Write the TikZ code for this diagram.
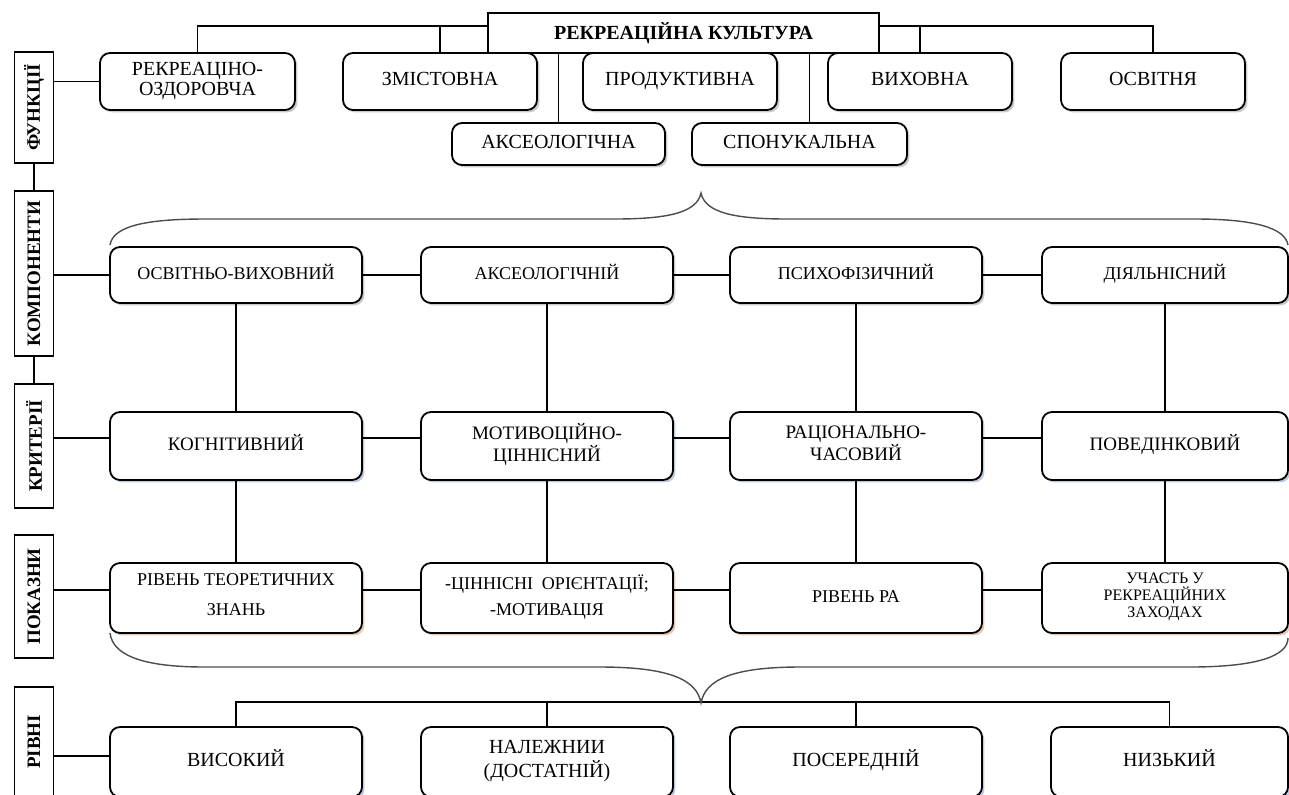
\documentclass[tikz,border=0pt]{standalone}
\usepackage{fontspec}
\setmainfont{Liberation Serif}
\usetikzlibrary{shadows}
\definecolor{shgray}{RGB}{150,150,150}
\definecolor{shblue}{RGB}{125,148,185}
\definecolor{shbrown}{RGB}{205,145,105}
\begin{document}
\begin{tikzpicture}[x=0.5pt,y=-0.5pt,line width=0.7pt,
    boxshadow/.style={drop shadow={shadow xshift=1.2pt,shadow yshift=-1.2pt,fill=#1}},
    box/.style={draw,line width=0.9pt,rounded corners=5pt,fill=white,align=center,inner sep=1pt,
        execute at begin node=\strut,execute at end node=\strut,
        font=\fontsize{9.5}{11}\selectfont},
    fbox/.style={box,boxshadow=shgray,minimum height=28.5pt,font=\fontsize{10}{10}\selectfont},
    sbox/.style={box,boxshadow=shgray,minimum height=21pt,font=\fontsize{10}{11}\selectfont},
    comp/.style={box,boxshadow=shgray,minimum width=126pt,minimum height=28pt,font=\fontsize{9}{11}\selectfont},
    crit/.style={box,boxshadow=shblue,minimum width=126pt,minimum height=34pt},
    ind/.style={box,boxshadow=shbrown,minimum width=126pt,minimum height=35pt,font=\fontsize{9}{11}\selectfont},
    lev/.style={box,boxshadow=shblue,minimum width=126pt,minimum height=35pt,font=\fontsize{10}{12}\selectfont},
    lbl/.style={draw,line width=0.9pt,rotate=90,fill=white,inner sep=0pt,minimum height=19.5pt,
        font=\bfseries\fontsize{9.5}{11}\selectfont}]
    \useasboundingbox (0,0) rectangle (1289,794);

    \node[lbl,minimum width=55.5pt] (lf) at (34,107.5) {ФУНКЦІЇ};
    \node[lbl,minimum width=82.5pt] (lc) at (34,273.5) {КОМПОНЕНТИ};
    \node[lbl,minimum width=62pt] (lk) at (34,446) {КРИТЕРІЇ};
    \node[lbl,minimum width=61.5pt] (lp) at (34,596.5) {ПОКАЗНИ};
    \node[lbl,minimum width=55pt] (lr) at (34,742) {РІВНІ};

    \node[draw,line width=0.9pt,fill=white,minimum width=195.5pt,minimum height=20pt,
        font=\bfseries\fontsize{10}{12}\selectfont] (root) at (683.5,33) {РЕКРЕАЦІЙНА КУЛЬТУРА};

    \node[fbox,minimum width=97.5pt] (f1) at (197.5,81.5) {РЕКРЕАЦІНО-\\ОЗДОРОВЧА};
    \node[fbox,minimum width=97pt] (f2) at (440,81.5) {ЗМІСТОВНА};
    \node[fbox,minimum width=97pt] (f3) at (680,81.5) {ПРОДУКТИВНА};
    \node[fbox,minimum width=92pt] (f4) at (920,81.5) {ВИХОВНА};
    \node[fbox,minimum width=92pt] (f5) at (1153,81.5) {ОСВІТНЯ};
    \node[sbox,minimum width=106.5pt] (f6) at (558.5,144) {АКСЕОЛОГІЧНА};
    \node[sbox,minimum width=107.5pt] (f7) at (799.5,144) {СПОНУКАЛЬНА};

    \node[comp] (c1) at (236,275) {ОСВІТНЬО-ВИХОВНИЙ};
    \node[comp] (c2) at (547,275) {АКСЕОЛОГІЧНІЙ};
    \node[comp] (c3) at (856,275) {ПСИХОФІЗИЧНИЙ};
    \node[comp,minimum width=123pt] (c4) at (1165,275) {ДІЯЛЬНІСНИЙ};

    \node[crit] (k1) at (236,446) {КОГНІТИВНИЙ};
    \node[crit] (k2) at (547,446) {МОТИВОЦІЙНО-\\ЦІННІСНИЙ};
    \node[crit] (k3) at (856,446) {РАЦІОНАЛЬНО-\\ЧАСОВИЙ};
    \node[crit,minimum width=123pt] (k4) at (1165,446) {ПОВЕДІНКОВИЙ};

    \node[ind] (p1) at (236,598) {РІВЕНЬ ТЕОРЕТИЧНИХ\\[4pt]ЗНАНЬ};
    \node[ind] (p2) at (547,598) {-ЦІННІСНІ~~ОРІЄНТАЦІЇ;\\[2pt]-МОТИВАЦІЯ};
    \node[ind] (p3) at (856,598) {РІВЕНЬ РА};
    \node[ind,minimum width=123pt,font=\fontsize{8}{8.5}\selectfont] (p4) at (1165,598) {УЧАСТЬ У\\РЕКРЕАЦІЙНИХ\\ЗАХОДАХ};

    \node[lev] (r1) at (236,762) {ВИСОКИЙ};
    \node[lev] (r2) at (547,762) {НАЛЕЖНИИ\\(ДОСТАТНІЙ)};
    \node[lev] (r3) at (856,762) {ПОСЕРЕДНІЙ};
    \node[lev,minimum width=118.5pt] (r4) at (1169.5,762) {НИЗЬКИЙ};

    \coordinate (topbus) at (683,26);
    \draw (root.west |- topbus) -- (topbus -| f1.north) -- (f1.north);
    \draw (topbus -| f2.north) -- (f2.north);
    \draw (root.east |- topbus) -- (topbus -| f5.north) -- (f5.north);
    \draw (topbus -| f4.north) -- (f4.north);
    \draw (f6.north) -- (f6.north |- root.south);
    \draw ([xshift=5pt]f7.north) -- ([xshift=5pt]f7.north |- root.south);

    \draw (lf.west) -- (lc.east);
    \draw (lc.west) -- (lk.east);
    \draw (f1.west) -- (f1.west -| lf.south);
    \draw (c1.west) -- (c1.west -| lc.south);
    \draw ([yshift=4pt]k1.west) -- ([yshift=4pt]k1.west -| lk.south);
    \draw ([yshift=4pt]p1.west) -- ([yshift=4pt]p1.west -| lp.south);
    \draw ([yshift=3pt]r1.west) -- ([yshift=3pt]r1.west -| lr.south);

    \foreach \a/\b in {1/2,2/3,3/4} {
        \draw (c\a.east) -- (c\b.west);
        \draw ([yshift=4pt]k\a.east) -- ([yshift=4pt]k\b.west);
        \draw ([yshift=4pt]p\a.east) -- ([yshift=4pt]p\b.west);
    }
    \foreach \i in {1,...,4} {
        \draw (c\i.south) -- (k\i.north);
        \draw (k\i.south) -- (p\i.north);
    }

    \coordinate (lbus) at (701,702);
    \draw (r1.north) -- (r1.north |- lbus) -- (r4.north |- lbus) -- (r4.north);
    \draw (r2.north) -- (r2.north |- lbus);
    \draw (r3.north) -- (r3.north |- lbus);

    \draw[black!70] (110,245) .. controls (113,225) and (150,219) .. (205,219) -- (615,219)
        .. controls (670,219) and (697,212) .. (701,193) .. controls (705,212) and (732,219) .. (787,219)
        -- (1195,219) .. controls (1255,219) and (1285,228) .. (1288,245);
    \draw[black!70] (110,633) .. controls (113,658) and (150,667) .. (205,667) -- (600,667)
        .. controls (670,667) and (697,680) .. (701,703) .. controls (705,680) and (732,667) .. (800,667)
        -- (1190,667) .. controls (1260,667) and (1288,655) .. (1288,638);
\end{tikzpicture}
\end{document}
